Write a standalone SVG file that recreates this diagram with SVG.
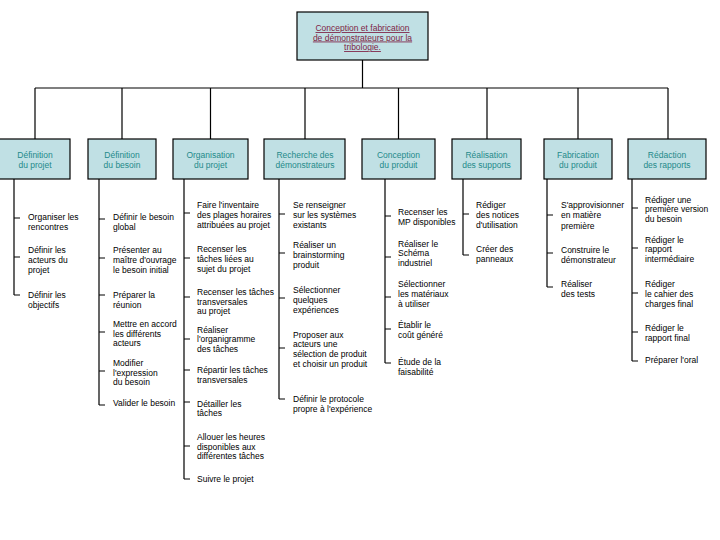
<svg xmlns="http://www.w3.org/2000/svg" width="720" height="540" viewBox="0 0 720 540">
<style>
.box{fill:#c0e0e4;stroke:#000;stroke-width:1.2}
.ln{fill:none;stroke:#000;stroke-width:1.2}
.t{font-family:"Liberation Sans",Arial,sans-serif;font-size:8.5px;fill:#000}
.h{font-family:"Liberation Sans",Arial,sans-serif;font-size:8.5px;fill:#1f8a8a;text-anchor:middle}
.ti{font-family:"Liberation Sans",Arial,sans-serif;font-size:8.5px;fill:#7e1f45;text-anchor:middle;text-decoration:underline}
</style>
<rect width="720" height="540" fill="#fff"/>
<g id="connectors">
<path class="ln" d="M362.5 60V88M35 88H668M35 88V139M122 88V139M210.5 88V139M305 88V139M398.5 88V139M487 88V139M578 88V139M668 88V139"/>
<path class="ln" d="M14 179V295M14 218h6M14 257h6M14 295h6"/>
<path class="ln" d="M99 179V405M99 219h6M99 258h6M99 295h6M99 332h6M99 371h6M99 405h6"/>
<path class="ln" d="M184 179V479M184 213h6M184 258h6M184 297h6M184 339h6M184 370h6M184 402h6M184 446h6M184 479h6"/>
<path class="ln" d="M279 179V399M279 214h6M279 253h6M279 298h6M279 348h6M279 399h6"/>
<path class="ln" d="M385 179V363M385 216h6M385 257h6M385 297h6M385 329h6M385 363h6"/>
<path class="ln" d="M463 179V255M463 214h6M463 255h6"/>
<path class="ln" d="M547 179V287M547 215h6M547 253h6M547 287h6"/>
<path class="ln" d="M632 179V361M632 208h6M632 248h6M632 293h6M632 332h6M632 361h6"/>
</g>
<g id="root">
<rect class="box" x="297" y="12" width="131" height="48"/>
<text class="ti"><tspan x="362.5" y="31">Conception et fabrication</tspan><tspan x="362.5" y="40.5">de démonstrateurs pour la</tspan><tspan x="362.5" y="50">tribologie.</tspan></text>
</g>
<g id="n1">
<rect class="box" x="-1" y="139" width="71" height="40"/>
<text class="h"><tspan x="35" y="158">Définition</tspan><tspan x="35" y="167.5">du projet</tspan></text>
<text class="t"><tspan x="28" y="220">Organiser les</tspan><tspan x="28" y="230">rencontres</tspan><tspan x="28" y="253">Définir les</tspan><tspan x="28" y="263">acteurs du</tspan><tspan x="28" y="273">projet</tspan><tspan x="28" y="298">Définir les</tspan><tspan x="28" y="308">objectifs</tspan></text>
</g>
<g id="n2">
<rect class="box" x="88" y="139" width="68" height="40"/>
<text class="h"><tspan x="122" y="158">Définition</tspan><tspan x="122" y="167.5">du besoin</tspan></text>
<text class="t"><tspan x="113" y="220">Définir le besoin</tspan><tspan x="113" y="230">global</tspan><tspan x="113" y="253">Présenter au</tspan><tspan x="113" y="263">maître d'ouvrage</tspan><tspan x="113" y="272.5">le besoin initial</tspan><tspan x="113" y="298">Préparer la</tspan><tspan x="113" y="308">réunion</tspan><tspan x="113" y="327">Mettre en accord</tspan><tspan x="113" y="336.5">les différents</tspan><tspan x="113" y="346">acteurs</tspan><tspan x="113" y="366">Modifier</tspan><tspan x="113" y="375.5">l'expression</tspan><tspan x="113" y="385">du besoin</tspan><tspan x="113" y="406">Valider le besoin</tspan></text>
</g>
<g id="n3">
<rect class="box" x="173" y="139" width="75" height="40"/>
<text class="h"><tspan x="210.5" y="158">Organisation</tspan><tspan x="210.5" y="167.5">du projet</tspan></text>
<text class="t"><tspan x="197" y="208">Faire l'inventaire</tspan><tspan x="197" y="218">des plages horaires</tspan><tspan x="197" y="228">attribuées au projet</tspan><tspan x="197" y="252">Recenser les</tspan><tspan x="197" y="262">tâches liées au</tspan><tspan x="197" y="271.5">sujet du projet</tspan><tspan x="197" y="295">Recenser les tâches</tspan><tspan x="197" y="304.5">transversales</tspan><tspan x="197" y="314">au projet</tspan><tspan x="197" y="332.5">Réaliser</tspan><tspan x="197" y="342">l'organigramme</tspan><tspan x="197" y="352">des tâches</tspan><tspan x="197" y="373">Répartir les tâches</tspan><tspan x="197" y="383">transversales</tspan><tspan x="197" y="406.5">Détailler les</tspan><tspan x="197" y="416">tâches</tspan><tspan x="197" y="440">Allouer les heures</tspan><tspan x="197" y="449.5">disponibles aux</tspan><tspan x="197" y="459">différentes tâches</tspan><tspan x="197" y="481.5">Suivre le projet</tspan></text>
</g>
<g id="n4">
<rect class="box" x="264" y="139" width="81" height="40"/>
<text class="h"><tspan x="305" y="158">Recherche des</tspan><tspan x="305" y="167.5">démonstrateurs</tspan></text>
<text class="t"><tspan x="293" y="208">Se renseigner</tspan><tspan x="293" y="217.5">sur les systèmes</tspan><tspan x="293" y="227.5">existants</tspan><tspan x="293" y="248">Réaliser un</tspan><tspan x="293" y="257.5">brainstorming</tspan><tspan x="293" y="267.5">produit</tspan><tspan x="293" y="293">Sélectionner</tspan><tspan x="293" y="303">quelques</tspan><tspan x="293" y="313">expériences</tspan><tspan x="293" y="338">Proposer aux</tspan><tspan x="293" y="347">acteurs une</tspan><tspan x="293" y="356.5">sélection de produit</tspan><tspan x="293" y="366.5">et choisir un produit</tspan><tspan x="293" y="402">Définir le protocole</tspan><tspan x="293" y="411.5">propre à l'expérience</tspan></text>
</g>
<g id="n5">
<rect class="box" x="362" y="139" width="73" height="40"/>
<text class="h"><tspan x="398.5" y="158">Conception</tspan><tspan x="398.5" y="167.5">du produit</tspan></text>
<text class="t"><tspan x="398" y="215">Recenser les</tspan><tspan x="398" y="225">MP disponibles</tspan><tspan x="398" y="246.5">Réaliser le</tspan><tspan x="398" y="256">Schéma</tspan><tspan x="398" y="266">industriel</tspan><tspan x="398" y="287">Sélectionner</tspan><tspan x="398" y="297">les matériaux</tspan><tspan x="398" y="307">à utiliser</tspan><tspan x="398" y="328">Établir le</tspan><tspan x="398" y="338">coût généré</tspan><tspan x="398" y="365">Étude de la</tspan><tspan x="398" y="375">faisabilité</tspan></text>
</g>
<g id="n6">
<rect class="box" x="452" y="139" width="69" height="40"/>
<text class="h"><tspan x="486.5" y="158">Réalisation</tspan><tspan x="486.5" y="167.5">des supports</tspan></text>
<text class="t"><tspan x="476" y="208">Rédiger</tspan><tspan x="476" y="217.5">des notices</tspan><tspan x="476" y="227.5">d'utilisation</tspan><tspan x="476" y="252">Créer des</tspan><tspan x="476" y="262">panneaux</tspan></text>
</g>
<g id="n7">
<rect class="box" x="544" y="139" width="68" height="40"/>
<text class="h"><tspan x="578" y="158">Fabrication</tspan><tspan x="578" y="167.5">du produit</tspan></text>
<text class="t"><tspan x="561" y="208">S'approvisionner</tspan><tspan x="561" y="218">en matière</tspan><tspan x="561" y="228.5">première</tspan><tspan x="561" y="253">Construire le</tspan><tspan x="561" y="263">démonstrateur</tspan><tspan x="561" y="287">Réaliser</tspan><tspan x="561" y="297">des tests</tspan></text>
</g>
<g id="n8">
<rect class="box" x="628" y="139" width="78" height="40"/>
<text class="h"><tspan x="667" y="158">Rédaction</tspan><tspan x="667" y="167.5">des rapports</tspan></text>
<text class="t"><tspan x="645" y="202.5">Rédiger une</tspan><tspan x="645" y="212">première version</tspan><tspan x="645" y="221.5">du besoin</tspan><tspan x="645" y="242.5">Rédiger le</tspan><tspan x="645" y="251.5">rapport</tspan><tspan x="645" y="261.5">intermédiaire</tspan><tspan x="645" y="287">Rédiger</tspan><tspan x="645" y="297">le cahier des</tspan><tspan x="645" y="307">charges final</tspan><tspan x="645" y="331">Rédiger le</tspan><tspan x="645" y="341">rapport final</tspan><tspan x="645" y="363">Préparer l'oral</tspan></text>
</g>
</svg>
